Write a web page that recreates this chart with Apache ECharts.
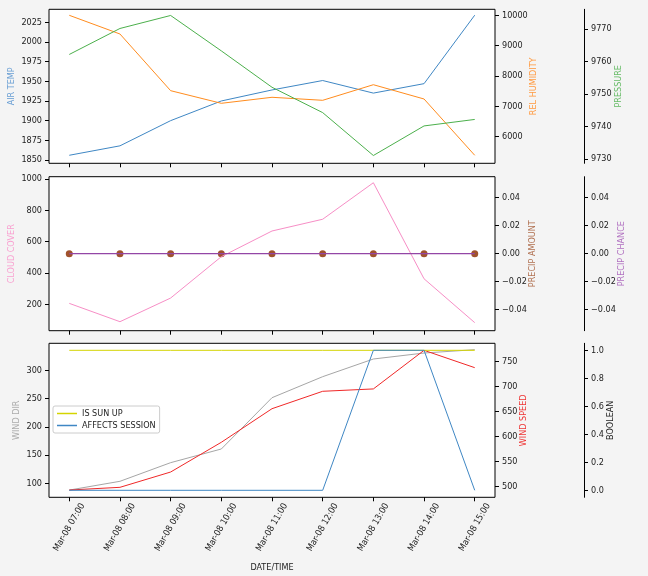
<!DOCTYPE html>
<html><head><meta charset="utf-8">
<script src="https://cdn.jsdelivr.net/npm/echarts@6/dist/echarts.min.js"></script>
<style>html,body{margin:0;padding:0;background:#f4f4f4}#c{width:648px;height:576px}</style>
</head><body><div id="c"></div>
<script>
const categories = ['Mar-08 07:00','Mar-08 08:00','Mar-08 09:00','Mar-08 10:00','Mar-08 11:00','Mar-08 12:00','Mar-08 13:00','Mar-08 14:00','Mar-08 15:00'];
const airTemp = [1856, 1868, 1900, 1925, 1939, 1951, 1935, 1947, 2034];
const relHumidity = [10002, 9386, 7517, 7101, 7299, 7200, 7714, 7243, 5387];
const pressure = [9762.1, 9770.1, 9774.1, 9763.2, 9752.0, 9744.2, 9731.0, 9740.1, 9742.1];
const cloudCover = [206, 89, 240, 504, 668, 743, 976, 363, 83];
const precipAmount = [0, 0, 0, 0, 0, 0, 0, 0, 0];
const precipChance = [0, 0, 0, 0, 0, 0, 0, 0, 0];
const windDir = [88, 103.5, 136.5, 160.7, 251.5, 288.7, 320, 330.6, 336.5];
const windSpeed = [493.4, 498.8, 529.3, 588.6, 655.6, 690.3, 695, 772, 737.4];
const isSunUp = [1, 1, 1, 1, 1, 1, 1, 1, 1];
const affectsSession = [0, 0, 0, 0, 0, 0, 1, 1, 0];

const airTempTicks = [1850, 1875, 1900, 1925, 1950, 1975, 2000, 2025];
const humidityTicks = [6000, 7000, 8000, 9000, 10000];
const pressureTicks = [9730, 9740, 9750, 9760, 9770];
const cloudTicks = [200, 400, 600, 800, 1000];
const precipTicks = [-0.04, -0.02, 0, 0.02, 0.04];
const windDirTicks = [100, 150, 200, 250, 300];
const windSpeedTicks = [500, 550, 600, 650, 700, 750];
const boolTicks = [0, 0.2, 0.4, 0.6, 0.8, 1.0];

const FONT = '"DejaVu Sans Condensed", "DejaVu Sans", sans-serif';
const FS = 9;
const idx = categories.map((_, i) => i);
const pairs = arr => arr.map((v, i) => [i, v]);

const grids = [
  {left: 49, right: 153, top: 9.3, height: 154},
  {left: 49, right: 153, top: 176.7, height: 154},
  {left: 49, right: 153, top: 343.3, height: 154}
].map(g => Object.assign(g, {show: true, backgroundColor: '#fff', borderColor: '#000', borderWidth: 1, containLabel: false, outerBoundsMode: 'none'}));

function xAx(gi, showLabels) {
  return {
    type: 'value', gridIndex: gi, min: -0.4, max: 8.4,
    axisLine: {show: false, onZero: false},
    splitLine: {show: false},
    axisTick: {show: true, inside: false, length: 4, lineStyle: {color: '#000'}, customValues: idx},
    axisLabel: {show: showLabels, customValues: idx, rotate: 60, align: 'center', verticalAlign: 'middle', margin: 30,
      fontFamily: FONT, fontSize: FS, color: '#222', formatter: v => categories[Math.round(v)]},
    name: showLabels ? 'DATE/TIME' : '', nameLocation: 'middle', nameGap: 66, nameMoveOverlap: false,
    nameTextStyle: {fontFamily: FONT, fontSize: FS, color: '#222'}
  };
}

function yAx(gi, pos, offset, min, max, ticks, name, nameColor, nameGap, fmt, showLine) {
  return {
    type: 'value', gridIndex: gi, position: pos, offset: offset, min: min, max: max,
    splitLine: {show: false},
    axisLine: {show: !!showLine, onZero: false, lineStyle: {color: '#000', width: 1}},
    axisTick: {show: true, inside: false, length: 4, lineStyle: {color: '#000'}, customValues: ticks},
    axisLabel: {customValues: ticks, margin: 7, fontFamily: FONT, fontSize: FS, color: '#222',
      formatter: fmt || (v => String(v))},
    name: name, nameLocation: 'middle', nameRotate: 90, nameGap: nameGap, nameMoveOverlap: false,
    nameTextStyle: {fontFamily: FONT, fontSize: FS, color: nameColor}
  };
}
const minusFmt = d => v => (v < 0 ? '\u2212' : '') + Math.abs(v).toFixed(d);

const option = {
  backgroundColor: '#f4f4f4',
  animation: false,
  grid: grids,
  xAxis: [xAx(0, false), xAx(1, false), xAx(2, true)],
  yAxis: [
    yAx(0, 'left', 0, 1845.8, 2041.5, airTempTicks, 'AIR TEMP', '#6a9fd4', 33),
    yAx(0, 'right', 0, 5123, 10200, humidityTicks, 'REL HUMIDITY', '#ff9a40', 34.5),
    yAx(0, 'right', 89, 9728.6, 9776.0, pressureTicks, 'PRESSURE', '#66bb66', 30, null, true),
    yAx(1, 'left', 0, 31.5, 1014.6, cloudTicks, 'CLOUD COVER', '#f9a0d0', 33),
    yAx(1, 'right', 0, -0.055, 0.055, precipTicks, 'PRECIP AMOUNT', '#b07050', 33, minusFmt(2)),
    yAx(1, 'right', 89, -0.055, 0.055, precipTicks, 'PRECIP CHANCE', '#b070c0', 33, minusFmt(2), true),
    yAx(2, 'left', 0, 75.2, 347.8, windDirTicks, 'WIND DIR', '#aaaaaa', 28),
    yAx(2, 'right', 0, 478.9, 786, windSpeedTicks, 'WIND SPEED', '#ee3333', 24),
    yAx(2, 'right', 89, -0.05, 1.05, boolTicks, 'BOOLEAN', '#222', 22.5, minusFmt(1), true)
  ],
  legend: {
    left: 53, top: 406, orient: 'vertical', padding: [3, 4, 3, 4], itemGap: 3,
    backgroundColor: '#fff', borderColor: '#cccccc', borderWidth: 1, borderRadius: 2,
    itemWidth: 20, itemHeight: 1.5, icon: 'rect',
    textStyle: {fontFamily: FONT, fontSize: FS, color: '#222'},
    data: ['IS SUN UP', 'AFFECTS SESSION']
  },
  series: [
    {name: 'AIR TEMP', type: 'line', xAxisIndex: 0, yAxisIndex: 0, data: pairs(airTemp), showSymbol: false, lineStyle: {color: '#3f87c4', width: 1}, itemStyle: {color: '#3f87c4'}},
    {name: 'REL HUMIDITY', type: 'line', xAxisIndex: 0, yAxisIndex: 1, data: pairs(relHumidity), showSymbol: false, lineStyle: {color: '#ff8c1e', width: 1}, itemStyle: {color: '#ff8c1e'}},
    {name: 'PRESSURE', type: 'line', xAxisIndex: 0, yAxisIndex: 2, data: pairs(pressure), showSymbol: false, lineStyle: {color: '#4cb04c', width: 1}, itemStyle: {color: '#4cb04c'}},
    {name: 'CLOUD COVER', type: 'line', xAxisIndex: 1, yAxisIndex: 3, data: pairs(cloudCover), showSymbol: false, lineStyle: {color: '#f78ec6', width: 1}, itemStyle: {color: '#f78ec6'}},
    {name: 'PRECIP CHANCE', type: 'line', xAxisIndex: 1, yAxisIndex: 5, data: pairs(precipChance), showSymbol: false, lineStyle: {color: '#9346a6', width: 1.3}, itemStyle: {color: '#9346a6'}},
    {name: 'PRECIP AMOUNT', type: 'scatter', xAxisIndex: 1, yAxisIndex: 4, data: pairs(precipAmount), symbol: 'circle', symbolSize: 7, itemStyle: {color: '#a0522d', opacity: 1}},
    {name: 'WIND DIR', type: 'line', xAxisIndex: 2, yAxisIndex: 6, data: pairs(windDir), showSymbol: false, lineStyle: {color: '#a6a6a6', width: 1}, itemStyle: {color: '#a6a6a6'}},
    {name: 'WIND SPEED', type: 'line', xAxisIndex: 2, yAxisIndex: 7, data: pairs(windSpeed), showSymbol: false, lineStyle: {color: '#f02828', width: 1}, itemStyle: {color: '#f02828'}},
    {name: 'IS SUN UP', type: 'line', xAxisIndex: 2, yAxisIndex: 8, data: pairs(isSunUp), showSymbol: false, lineStyle: {color: '#d4d400', width: 1}, itemStyle: {color: '#d4d400'}},
    {name: 'AFFECTS SESSION', type: 'line', xAxisIndex: 2, yAxisIndex: 8, data: pairs(affectsSession), showSymbol: false, lineStyle: {color: '#3f87c4', width: 1}, itemStyle: {color: '#3f87c4'}}
  ]
};
const chart = echarts.init(document.getElementById('c'), null, {renderer: 'canvas'});
chart.setOption(option);
</script></body></html>
